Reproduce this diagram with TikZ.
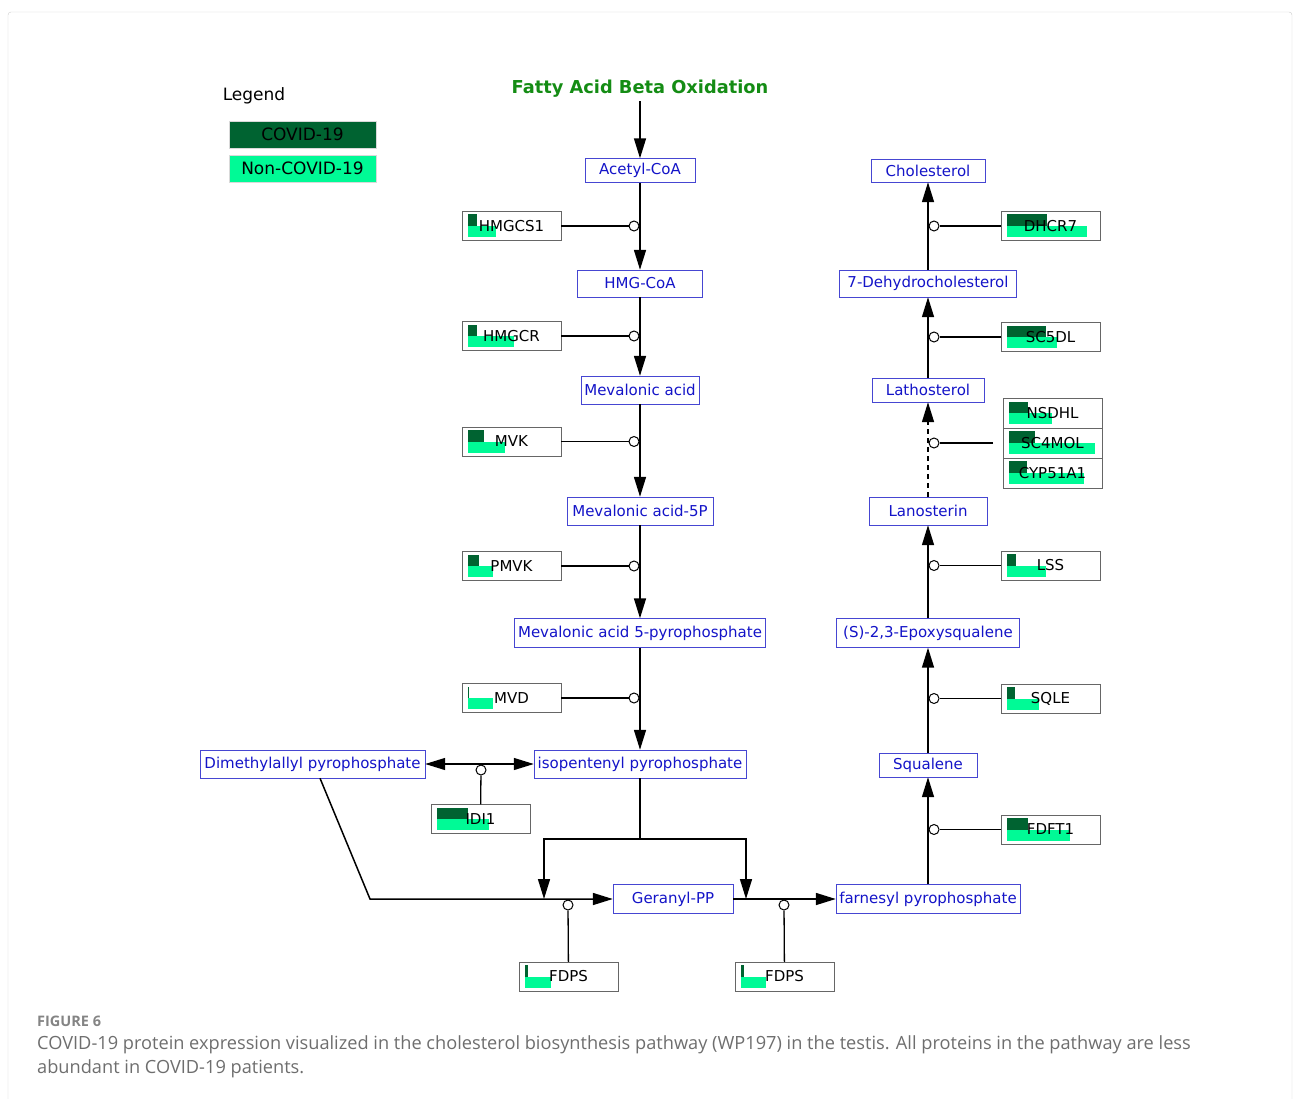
\documentclass[tikz,border=0pt]{standalone}
\usepackage{fontspec}
\setmainfont{DejaVu Sans}
\newfontfamily\capfont{Open Sans}
\usetikzlibrary{arrows.meta}
\definecolor{covid}{RGB}{0,99,49}
\definecolor{noncovid}{RGB}{0,250,150}
\definecolor{metab}{RGB}{20,20,200}
\definecolor{metabline}{RGB}{70,70,210}
\definecolor{faogreen}{RGB}{20,140,20}
\definecolor{capgray}{RGB}{110,110,110}
\newcommand{\labelfont}{\fontsize{15}{18}\selectfont}

\begin{document}
\begin{tikzpicture}[x=1pt,y=-1pt,
    metabolite/.style={draw=metabline, text=metab, fill=white, inner sep=0pt, font=\labelfont},
    gene/.style 2 args={draw=black!60, fill=white, minimum width=99pt, minimum height=29pt,
      inner sep=0pt, font=\labelfont,
      path picture={
        \fill[covid] ([shift={(6,3)}]path picture bounding box.north west) rectangle ++(#1,11.5);
        \fill[noncovid] ([shift={(6,14.5)}]path picture bounding box.north west) rectangle ++(#2,11);}},
    legendbox/.style={draw=black!15, minimum width=147pt, minimum height=27pt, font=\fontsize{17}{20}\selectfont},
    cat/.style={circle, draw=black, fill=white, line width=1pt, inner sep=0pt, minimum size=10pt},
    rxn/.style={line width=1.5pt, -{Triangle[length=20pt,width=12pt]}},
    link/.style={line width=1.3pt}]
  \useasboundingbox (0,0) rectangle (1293,1099);
  \draw[black!20, rounded corners=3pt] (8,1110) -- (8,12) -- (1292,12) -- (1292,1110);

  \node[font=\fontsize{17}{20}\selectfont] (legend) at (254,95.5) {Legend};
  \node[legendbox, fill=covid] (lgcovid) at (302.5,134.5) {COVID-19};
  \node[legendbox, fill=noncovid] (lgnon) at (302.5,168.5) {Non-COVID-19};

  \node[text=faogreen, font=\fontsize{17.8}{20}\selectfont\bfseries] (fao) at (640,89) {Fatty Acid Beta Oxidation};

  \node[metabolite, minimum width=110pt, minimum height=24pt] (acoa) at (640,170.5) {Acetyl-CoA};
  \node[metabolite, minimum width=125pt, minimum height=27pt] (hmgcoa) at (640,283.5) {HMG-CoA};
  \node[metabolite, minimum width=118pt, minimum height=28pt] (mva) at (640,390) {Mevalonic acid};
  \node[metabolite, minimum width=146pt, minimum height=28pt] (mva5p) at (640,511) {Mevalonic acid-5P};
  \node[metabolite, minimum width=251pt, minimum height=29pt] (mvapp) at (640,633) {Mevalonic acid 5-pyrophosphate};
  \node[metabolite, minimum width=212pt, minimum height=28pt] (ipp) at (640,764) {isopentenyl pyrophosphate};
  \node[metabolite, minimum width=225pt, minimum height=28pt] (dmapp) at (312.5,764) {Dimethylallyl pyrophosphate};
  \node[metabolite, minimum width=120pt, minimum height=29pt] (gpp) at (673,899) {Geranyl-PP};
  \node[metabolite, minimum width=184pt, minimum height=29pt] (fpp) at (928,899) {farnesyl pyrophosphate};
  \node[metabolite, minimum width=98pt, minimum height=24pt] (squalene) at (928,765) {Squalene};
  \node[metabolite, minimum width=183pt, minimum height=29pt] (epoxy) at (928,633) {(S)-2,3-Epoxysqualene};
  \node[metabolite, minimum width=118pt, minimum height=28pt] (lanosterin) at (928,511) {Lanosterin};
  \node[metabolite, minimum width=112pt, minimum height=24pt] (lathosterol) at (928,390) {Lathosterol};
  \node[metabolite, minimum width=177pt, minimum height=27pt] (dhc) at (928,283.5) {7-Dehydrocholesterol};
  \node[metabolite, minimum width=114pt, minimum height=23pt] (chol) at (928,170.5) {Cholesterol};

  \node[gene={9}{28}] (hmgcs1) at (511.5,226) {HMGCS1};
  \node[gene={9}{46}] (hmgcr) at (511.5,336) {HMGCR};
  \node[gene={16}{37}] (mvk) at (511.5,441.5) {MVK};
  \node[gene={11}{25}] (pmvk) at (511.5,566) {PMVK};
  \node[gene={0.8}{25}] (mvd) at (511.5,698) {MVD};
  \node[gene={31}{52}] (idi1) at (480.5,819) {IDI1};
  \node[gene={2.5}{26}] (fdpsa) at (568.5,976.5) {FDPS};
  \node[gene={2.5}{25}] (fdpsb) at (784.5,976.5) {FDPS};
  \node[gene={40}{80}] (dhcr7) at (1050.5,226) {DHCR7};
  \node[gene={39}{50}] (sc5dl) at (1050.5,337) {SC5DL};
  \node[gene={19}{43}, minimum height=30pt] (nsdhl) at (1052.5,413.5) {NSDHL};
  \node[gene={26}{86}, minimum height=30pt] (sc4mol) at (1052.5,443) {SC4MOL};
  \node[gene={18}{75}, minimum height=30pt] (cyp51a1) at (1052.5,473) {CYP51A1};
  \node[gene={9}{39}] (lss) at (1050.5,565.5) {LSS};
  \node[gene={8}{32}] (sqle) at (1050.5,698.5) {SQLE};
  \node[gene={21}{63}] (fdft1) at (1050.5,829.5) {FDFT1};

  \draw[rxn] (fao) -- (acoa);
  \draw[rxn] (acoa) -- (hmgcoa);
  \draw[rxn] (hmgcoa) -- (mva);
  \draw[rxn] (mva) -- (mva5p);
  \draw[rxn] (mva5p) -- (mvapp);
  \draw[rxn] (mvapp) -- (ipp);
  \draw[link, {Triangle[length=20pt,width=12pt]}-{Triangle[length=20pt,width=12pt]}] (dmapp) -- (ipp);
  \coordinate (split) at (640,839);
  \coordinate (splitl) at (544,839);
  \coordinate (splitr) at (746,839);
  \coordinate (gppin) at (544,899);
  \coordinate (gppout) at (746,899);
  \coordinate (bend) at (370,899);
  \draw[link] (ipp) -- (split);
  \draw[rxn] (split) -- (splitl) -- (gppin);
  \draw[rxn] (split) -- (splitr) -- (gppout);
  \draw[rxn] ([xshift=7.5pt]dmapp.south) -- (bend) -- (gpp.west);
  \draw[rxn] (gpp) -- (fpp);
  \draw[rxn] (fpp) -- (squalene);
  \draw[rxn] (squalene) -- (epoxy);
  \draw[rxn] (epoxy) -- (lanosterin);
  \draw[rxn, dash pattern=on 5pt off 4pt] (lanosterin) -- (lathosterol);
  \draw[rxn] (lathosterol) -- (dhc);
  \draw[rxn] (dhc) -- (chol);

  \node[cat] (c1) at (634,226) {};
  \node[cat] (c2) at (634,336) {};
  \node[cat] (c3) at (634,441.5) {};
  \node[cat] (c4) at (634,566) {};
  \node[cat] (c5) at (634,698) {};
  \node[cat] (c6) at (481,770) {};
  \node[cat] (c7) at (568,905) {};
  \node[cat] (c8) at (784,905) {};
  \node[cat] (c9) at (934,829.5) {};
  \node[cat] (c10) at (934,698.5) {};
  \node[cat] (c11) at (934,565.5) {};
  \node[cat] (c12) at (934,443) {};
  \node[cat] (c13) at (934,337) {};
  \node[cat] (c14) at (934,226) {};
  \coordinate (stack) at (993,443);

  \draw[link] (hmgcs1.east) -- (c1);
  \draw[link] (hmgcr.east) -- (c2);
  \draw[link] (mvk.east) -- (c3);
  \draw[link] (pmvk.east) -- (c4);
  \draw[link] (mvd.east) -- (c5);
  \draw[link] (c6) -- (idi1);
  \draw[link] (c7) -- (fdpsa);
  \draw[link] (c8) -- (fdpsb);
  \draw[link] (fdft1.west) -- (c9);
  \draw[link] (sqle.west) -- (c10);
  \draw[link] (lss.west) -- (c11);
  \draw[link] (stack) -- (c12);
  \draw[link] (sc5dl.west) -- (c13);
  \draw[link] (dhcr7.west) -- (c14);

  \node[anchor=west, inner sep=0pt, text=capgray!85, font=\capfont\bfseries\fontsize{14.5}{16}\selectfont] (fignum) at (37,1021) {FIGURE 6};
  \node[anchor=north west, align=left, inner sep=0pt, text=capgray, font=\capfont\fontsize{18.2}{24}\selectfont] (caption) at (37,1035)
    {COVID-19 protein expression visualized in the cholesterol biosynthesis pathway (WP197) in the testis. All proteins in the pathway are less\\abundant in COVID-19 patients.};
\end{tikzpicture}
\end{document}
